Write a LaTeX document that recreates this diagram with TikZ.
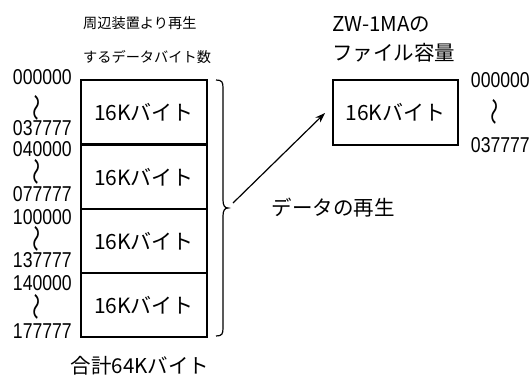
\documentclass[tikz,border=0pt]{standalone}
\usepackage{fontspec}
\usepackage{graphicx}
\setmainfont{Liberation Sans}
\newfontfamily\numfont{Liberation Sans}[FakeStretch=0.82]
\newfontfamily\jp{Noto Sans CJK JP}
\usetikzlibrary{arrows.meta}
\newcommand{\vwave}{\rotatebox{90}{\scalebox{1.7}[1.3]{～}}}
\begin{document}
\begin{tikzpicture}[x=1pt,y=-1pt,
  line/.style={line width=1.2pt,black},
  num/.style={inner sep=0pt,font=\numfont\fontsize{21.5}{21.5}\selectfont},
  wave/.style={inner sep=0pt,font=\jp\fontsize{16}{16}\selectfont},
  jtitle/.style={inner sep=0pt,font=\jp\fontsize{14.2}{14.2}\selectfont},
  jbig/.style={inner sep=0pt,font=\jp\fontsize{20.5}{20.5}\selectfont},
  boxtext/.style={inner sep=0pt,font=\jp\fontsize{21}{21}\selectfont},
  blk/.style={line, draw, minimum width=126pt, minimum height=64pt, inner sep=0pt}
]
\useasboundingbox (0,0) rectangle (531,378);
\fill[white] (0,0) rectangle (531,378);

% left title
\node[jtitle, anchor=west] (t1) at (83,23) {周辺装置より再生};
\node[jtitle, anchor=west] (t2) at (83,57) {するデータバイト数};

% left stack
\node[blk] (b1) at (144,112) {};
\node[blk] (b2) at (144,177) {};
\node[blk] (b3) at (144,241) {};
\node[blk] (b4) at (144,305) {};
\node[boxtext] (l1) at (b1.center) {16Kバイト};
\node[boxtext] (l2) at (b2.center) {16Kバイト};
\node[boxtext] (l3) at (b3.center) {16Kバイト};
\node[boxtext] (l4) at (b4.center) {16Kバイト};

% left address labels
\node[num, anchor=east] (a1) at (72,77) {000000};
\node[wave] (w1) at (39,108) {\vwave};
\node[num, anchor=east] (a2) at (72,128) {037777};
\node[num, anchor=east] (a3) at (72,149) {040000};
\node[wave] (w2) at (39,172) {\vwave};
\node[num, anchor=east] (a4) at (72,194) {077777};
\node[num, anchor=east] (a5) at (72,217) {100000};
\node[wave] (w3) at (39,239) {\vwave};
\node[num, anchor=east] (a6) at (72,260) {137777};
\node[num, anchor=east] (a7) at (72,283) {140000};
\node[wave] (w4) at (39,307) {\vwave};
\node[num, anchor=east] (a8) at (72,331) {177777};

% bottom label
\node[inner sep=0pt, font=\jp\fontsize{20.5}{20.5}\selectfont] (sum) at (140,366) {合計64Kバイト};

% brace
\coordinate (tip) at (228,208);
\draw[line] (216,80) .. controls (222,80) and (223,82) .. (223,88)
  -- (223,200) .. controls (223,206) and (225,208) .. (tip)
  .. controls (225,208) and (223,210) .. (223,216)
  -- (223,328) .. controls (223,334) and (222,336) .. (216,336);

% right title
\node[jbig, anchor=west] (r1) at (332,24) {ZW-1MAの};
\node[jbig, anchor=west] (r2) at (332,53) {ファイル容量};

% right box
\node[line, draw, minimum width=125pt, minimum height=65pt, inner sep=0pt] (rb) at (395.5,112.5) {};
\node[boxtext] (rl) at (rb.center) {16Kバイト};

% right addresses
\node[num, anchor=east] (ra1) at (530,80) {000000};
\node[wave] (rw) at (497,112) {\vwave};
\node[num, anchor=east] (ra2) at (530,145) {037777};

% arrow
\coordinate (as) at (233,203);
\draw[line, -{Stealth[length=10pt,width=7pt]}] (as) -- (325,113);

% label
\node[jbig] (rep) at (333,208) {データの再生};
\end{tikzpicture}
\end{document}
